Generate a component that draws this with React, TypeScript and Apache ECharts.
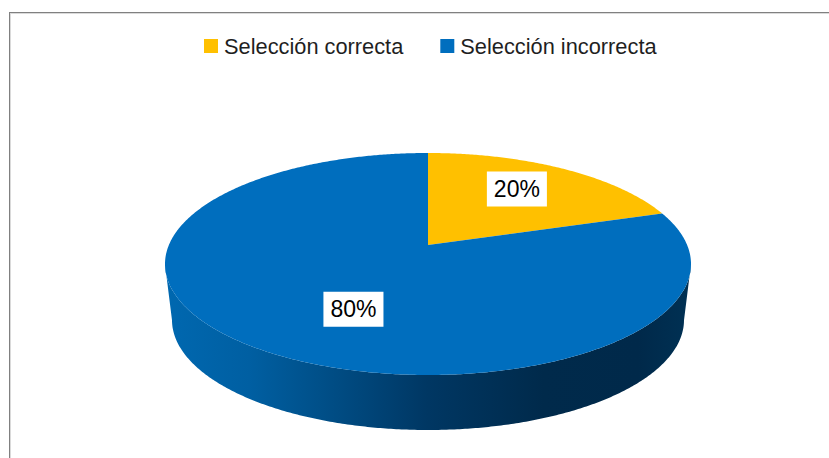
import React, { useEffect, useRef } from "react";
import * as echarts from "echarts";

const categories = ["Selección correcta", "Selección incorrecta"];
const values = [20, 80];
const sliceColors = ["#FFC000", "#006EBE"];
const labelAngleShift = [-2.6, -10.2];
const labelRadius = [0.684, 0.6];

const TOP = { cx: 428, cy: 264, rx: 263, ry: 111 };
const BOTTOM = { cx: 428, cy: 320, rx: 256, ry: 110 };
const PERSPECTIVE = -0.171;
const total = values.reduce((a, b) => a + b, 0);

// Point on the unit disc, seen in perspective: disc centre shifts towards the back of the ellipse.
function project(angleDeg: number, r: number, e: typeof TOP) {
  const a = (angleDeg * Math.PI) / 180;
  const x = r * Math.sin(a);
  const y = -r * Math.cos(a);
  const d = PERSPECTIVE;
  const k = 1 + d * y;
  const px = (x * Math.sqrt(1 - d * d)) / k;
  const py = (y + d) / k;
  return { x: e.cx + px * e.rx, y: e.cy + py * e.ry, py };
}

function renderSlice(params: any, api: any) {
  const index = params.seriesIndex as number;
  const value = api.value(0) as number;
  const before = values.slice(0, index).reduce((a, b) => a + b, 0);
  const start = (before / total) * 360;
  const end = start + (value / total) * 360;

  const rimAngles: number[] = [];
  for (let a = start; a < end; a += 0.5) rimAngles.push(a);
  rimAngles.push(end);

  const apex = project(0, 0, TOP);
  const face = [[apex.x, apex.y], ...rimAngles.map((a) => {
    const p = project(a, 1, TOP);
    return [p.x, p.y];
  })];

  const front = rimAngles.filter((a) => project(a, 1, TOP).py >= 0);
  const children: any[] = [];
  if (front.length > 1) {
    const upper = front.map((a) => {
      const p = project(a, 1, TOP);
      return [p.x, p.y];
    });
    const lower = front.slice().reverse().map((a) => {
      const p = project(a, 1, BOTTOM);
      return [p.x, p.y];
    });
    children.push({
      type: "polygon",
      shape: { points: [...upper, ...lower] },
      style: {
        fill: new echarts.graphic.LinearGradient(0, 0, 1, 0, [
          { offset: 0, color: "#0068B0" },
          { offset: 0.16, color: "#005FA2" },
          { offset: 0.3, color: "#004F88" },
          { offset: 0.5, color: "#003763" },
          { offset: 0.72, color: "#002A4B" },
          { offset: 0.9, color: "#00294A" },
          { offset: 1, color: "#003154" },
        ]),
      },
    });
  }
  children.push({
    type: "polygon",
    shape: { points: face },
    style: { fill: sliceColors[index] },
  });

  const mid = (start + end) / 2 + labelAngleShift[index];
  const at = project(mid, labelRadius[index], TOP);
  children.push({
    type: "text",
    z2: 10,
    style: {
      text: `${value}%`,
      x: at.x,
      y: at.y,
      align: "center",
      verticalAlign: "middle",
      fontFamily: "Liberation Sans",
      fontSize: 23,
      fill: "#000000",
      backgroundColor: "#FFFFFF",
      padding: [6, 7],
    },
  });
  return { type: "group", children };
}

export default function App() {
  const ref = useRef<HTMLDivElement>(null);
  useEffect(() => {
    const chart = echarts.init(ref.current!, undefined, { renderer: "svg" });
    chart.setOption({
      animation: false,
      backgroundColor: "#FFFFFF",
      color: sliceColors,
      legend: {
        data: categories,
        left: 204,
        top: 35,
        padding: 0,
        icon: "rect",
        itemWidth: 14,
        itemHeight: 14,
        itemGap: 37,
        selectedMode: false,
        textStyle: {
          fontFamily: "Liberation Sans",
          fontSize: 21.8,
          color: "#1F1F1F",
          padding: [0, 0, 3, 1],
        },
      },
      graphic: [
        { type: "rect", shape: { x: 9, y: 12, width: 820, height: 1 }, style: { fill: "#808080" } },
        { type: "rect", shape: { x: 10, y: 13, width: 819, height: 1 }, style: { fill: "#DADADA" } },
        { type: "rect", shape: { x: 9, y: 12, width: 1, height: 446 }, style: { fill: "#808080" } },
        { type: "rect", shape: { x: 10, y: 13, width: 1, height: 445 }, style: { fill: "#DADADA" } },
      ],
      series: categories.map((name, i) => ({
        type: "custom",
        name,
        coordinateSystem: "none",
        itemStyle: { color: sliceColors[i] },
        silent: true,
        data: [[values[i]]],
        renderItem: renderSlice,
      })),
    });
    return () => chart.dispose();
  }, []);
  return <div ref={ref} style={{ position: "fixed", left: 0, top: 0, width: 829, height: 458 }} />;
}
